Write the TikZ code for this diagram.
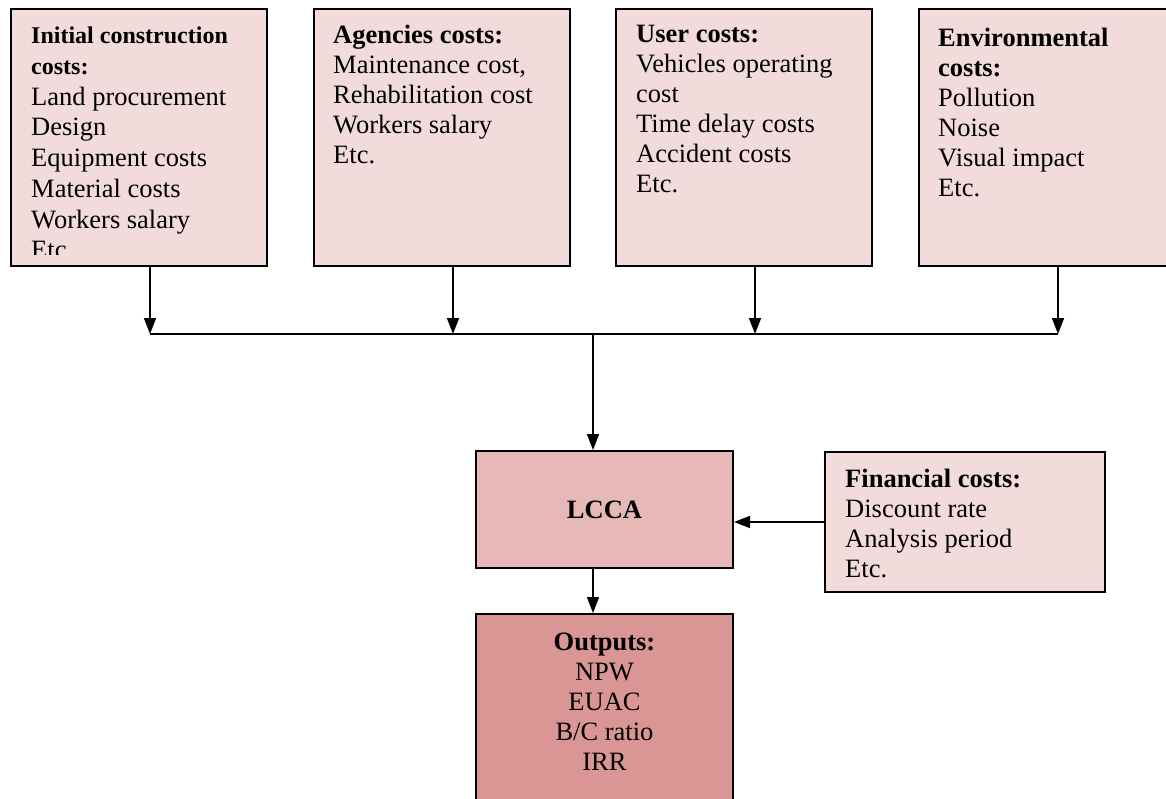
\documentclass[tikz,border=0pt]{standalone}
\usepackage{fontspec}
\setmainfont{Liberation Serif}
\usetikzlibrary{arrows.meta, positioning, calc}
\definecolor{costpink}{HTML}{F2DCDB}
\definecolor{lccapink}{HTML}{E6B9B8}
\definecolor{outpink}{HTML}{D99694}

\tikzset{
    costbox/.style={draw=black, line width=2pt, fill=costpink, inner sep=0pt, anchor=north west},
    boxtext/.style={anchor=north west, align=left, inner sep=0pt, font=\fontsize{26.5}{30}\selectfont},
    flow/.style={-{Triangle[length=16pt, width=12pt]}, line width=1.6pt},
    busline/.style={line width=1.6pt}
}

\begin{document}
\begin{tikzpicture}[x=1pt, y=-1pt]
    \useasboundingbox (0,0) rectangle (1166,799);

    % cost boxes along the top
    \node[costbox, minimum width=256pt, minimum height=257pt] (init) at (10,8) {};
    \node[costbox, minimum width=256pt, minimum height=257pt] (agency) at (313,8) {};
    \node[costbox, minimum width=256pt, minimum height=257pt] (user) at (615,8) {};
    \node[costbox, minimum width=270pt, minimum height=257pt] (env) at (918,8) {};

    \begin{scope}
        \clip (init.north west) rectangle ([yshift=12pt]init.south east);
        \node[boxtext, font=\fontsize{26.5}{30.7}\selectfont] (inittext) at ([xshift=21pt, yshift=-19pt]init.north west) {
            {\fontsize{24}{30.7}\selectfont\textbf{Initial construction}}\\
            {\fontsize{24}{30.7}\selectfont\textbf{costs:}}\\
            Land procurement\\ Design\\ Equipment costs\\ Material costs\\ Workers salary\\ Etc.};
    \end{scope}
    \node[boxtext] (agencytext) at ([xshift=20pt, yshift=-17pt]agency.north west) {
        \textbf{Agencies costs:}\\ Maintenance cost,\\ Rehabilitation cost\\ Workers salary\\ Etc.};
    \node[boxtext] (usertext) at ([xshift=21pt, yshift=-17pt]user.north west) {
        \textbf{User costs:}\\ Vehicles operating\\ cost\\ Time delay costs\\ Accident costs\\ Etc.};
    \node[boxtext] (envtext) at ([xshift=20pt, yshift=-20pt]env.north west) {
        \textbf{Environmental}\\ \textbf{costs:}\\ Pollution\\ Noise\\ Visual impact\\ Etc.};

    % analysis and results
    \node[costbox, fill=lccapink, minimum width=257pt, minimum height=117pt] (lcca) at (475,450) {};
    \node[font=\fontsize{26.5}{30}\selectfont\bfseries] (lccatext) at (lcca.center) {LCCA};
    \node[costbox, minimum width=280pt, minimum height=140pt] (fin) at (824,451) {};
    \node[boxtext] (fintext) at ([xshift=21pt, yshift=-18pt]fin.north west) {
        \textbf{Financial costs:}\\ Discount rate\\ Analysis period\\ Etc.};
    \node[costbox, fill=outpink, minimum width=257pt, minimum height=200pt] (out) at (475,613) {};
    \node[boxtext, anchor=north, align=center] (outtext) at ([yshift=-20pt]out.north) {
        \textbf{Outputs:}\\ NPW\\ EUAC\\ B/C ratio\\ IRR};

    % connectors
    \coordinate (bus) at (593,334);
    \foreach \b/\x in {init/150, agency/453, user/755, env/1058} {
        \coordinate (\b-tap) at (\x,334);
        \draw[flow] (\b.south -| \b-tap) -- (\b-tap);
    }
    \draw[busline] (init-tap) -- (env-tap);
    \draw[flow] (bus) -- (lcca.north -| bus);
    \draw[flow] (fin.west) -- (fin.west -| lcca.east);
    \draw[flow] (lcca.south -| bus) -- (out.north -| bus);
\end{tikzpicture}
\end{document}
